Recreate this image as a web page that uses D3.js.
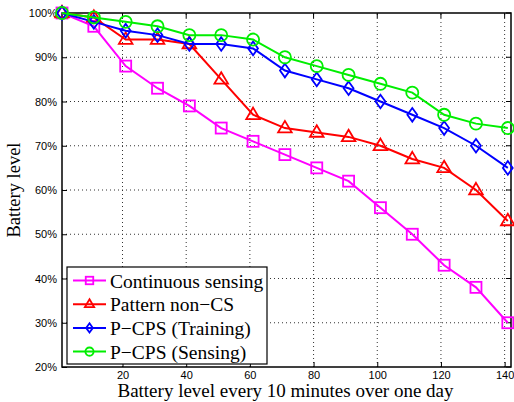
<!DOCTYPE html>
<html>
<head>
<meta charset="utf-8">
<script src="https://cdn.jsdelivr.net/npm/d3@7"></script>
<style>
  body { margin: 0; background: #fff; }
  svg { display: block; }
</style>
</head>
<body>
<svg id="chart" width="514" height="402"></svg>
<script>
// sample index (every 10 minutes)
const xs = [1, 11, 21, 31, 41, 51, 61, 71, 81, 91, 101, 111, 121, 131, 141];

// battery level in %
const continuousSensing = [100, 97, 88, 83, 79, 74, 71, 68, 65, 62, 56, 50, 43, 38, 30];
const patternNonCS = [100, 99, 94, 94, 93, 85, 77, 74, 73, 72, 70, 67, 65, 60, 53];
const pcpsTraining = [100, 98, 96, 95, 93, 93, 92, 87, 85, 83, 80, 77, 74, 70, 65];
const pcpsSensing = [100, 99, 98, 97, 95, 95, 94, 90, 88, 86, 84, 82, 77, 75, 74];

const xTicks = [20, 40, 60, 80, 100, 120, 140];
const yTicks = [20, 30, 40, 50, 60, 70, 80, 90, 100];

const seriesNames = ["Continuous sensing", "Pattern non\u2212CS", "P\u2212CPS (Training)", "P\u2212CPS (Sensing)"];
const seriesColors = ["#ff00ff", "#ff0000", "#0000ff", "#00ee00"];
const seriesMarkers = ["square", "triangle", "diamond", "circle"];

const series = [continuousSensing, patternNonCS, pcpsTraining, pcpsSensing].map((vals, i) => ({
  name: seriesNames[i],
  color: seriesColors[i],
  marker: seriesMarkers[i],
  points: vals.map((v, j) => ({ x: xs[j], y: v }))
}));

const margin = { left: 62, right: 3, top: 13, bottom: 35 };
const W = 514, H = 402;
const serif = "Liberation Serif, Times New Roman, serif";

const svg = d3.select("#chart");

const x = d3.scaleLinear().domain([1, 142]).range([margin.left, W - margin.right]);
const y = d3.scaleLinear().domain([20, 100]).range([H - margin.bottom, margin.top]);

const x0 = x.range()[0], x1 = x.range()[1];
const y0 = y.range()[0], y1 = y.range()[1];

// dotted grid
svg.append("g").selectAll("line").data(xTicks).join("line")
  .attr("x1", d => x(d)).attr("x2", d => x(d))
  .attr("y1", y0).attr("y2", y1)
  .attr("stroke", "#333").attr("stroke-width", 1)
  .attr("stroke-dasharray", "1,3");
svg.append("g").selectAll("line").data(yTicks.filter(d => d > 20 && d < 100)).join("line")
  .attr("x1", x0).attr("x2", x1)
  .attr("y1", d => y(d)).attr("y2", d => y(d))
  .attr("stroke", "#333").attr("stroke-width", 1)
  .attr("stroke-dasharray", "1,3");

// axes (ticks inside, matlab box style)
const xAxis = svg.append("g")
  .attr("transform", `translate(0,${y0})`)
  .call(d3.axisBottom(x).tickValues(xTicks).tickSizeInner(-5).tickSizeOuter(0).tickPadding(4));
const yAxis = svg.append("g")
  .attr("transform", `translate(${x0},0)`)
  .call(d3.axisLeft(y).tickValues(yTicks).tickFormat(d => d + "%").tickSizeInner(-5).tickSizeOuter(0).tickPadding(5));
[xAxis, yAxis].forEach(g => {
  g.select(".domain").remove();
  g.selectAll("text").attr("font-family", "Liberation Sans, Arial, sans-serif").attr("font-size", 11).attr("fill", "#000");
  g.selectAll("line").attr("stroke", "#000");
});
// opposite ticks
svg.append("g").selectAll("line").data(xTicks).join("line")
  .attr("x1", d => x(d)).attr("x2", d => x(d))
  .attr("y1", y1).attr("y2", y1 + 5).attr("stroke", "#000");
svg.append("g").selectAll("line").data(yTicks).join("line")
  .attr("x1", x1).attr("x2", x1 - 5)
  .attr("y1", d => y(d)).attr("y2", d => y(d)).attr("stroke", "#000");

// box
svg.append("rect")
  .attr("x", x0).attr("y", y1)
  .attr("width", x1 - x0).attr("height", y0 - y1)
  .attr("fill", "none").attr("stroke", "#000").attr("stroke-width", 1.5);

// marker drawing
function drawMarker(g, type, color, size) {
  const s = size;
  if (type === "square") {
    g.append("rect").attr("x", -s / 2).attr("y", -s / 2).attr("width", s).attr("height", s);
  } else if (type === "triangle") {
    const r = s * 0.65;
    g.append("path").attr("d", `M0,${-r}L${r * 0.95},${r * 0.6}L${-r * 0.95},${r * 0.6}Z`);
  } else if (type === "diamond") {
    const r = s * 0.62;
    g.append("path").attr("d", `M0,${-r}L${r * 0.72},0L0,${r}L${-r * 0.72},0Z`);
  } else {
    g.append("circle").attr("r", s * 0.55);
  }
  g.selectAll("*").attr("fill", "none").attr("stroke", color).attr("stroke-width", 1.8);
}

const line = d3.line().x(d => x(d.x)).y(d => y(d.y));

series.forEach(s => {
  svg.append("path")
    .datum(s.points)
    .attr("d", line)
    .attr("fill", "none")
    .attr("stroke", s.color)
    .attr("stroke-width", 2);
  s.points.forEach(p => {
    const g = svg.append("g").attr("transform", `translate(${x(p.x)},${y(p.y)})`);
    drawMarker(g, s.marker, s.color, 11);
  });
});

// legend
const legend = svg.append("g").attr("transform", "translate(67,267)");
legend.append("rect")
  .attr("width", 200).attr("height", 97)
  .attr("fill", "#fff").attr("stroke", "#000").attr("stroke-width", 1.2);
series.forEach((s, i) => {
  const ly = 13.5 + i * 23.7;
  legend.append("line")
    .attr("x1", 6).attr("x2", 39).attr("y1", ly).attr("y2", ly)
    .attr("stroke", s.color).attr("stroke-width", 2);
  const g = legend.append("g").attr("transform", `translate(22.5,${ly})`);
  drawMarker(g, s.marker, s.color, 7.5);
  legend.append("text")
    .attr("x", 43).attr("y", ly + 7)
    .attr("font-family", serif)
    .attr("font-size", 19.5)
    .text(s.name);
});

// axis titles
svg.append("text")
  .attr("x", (x0 + x1) / 2 - 1).attr("y", 397)
  .attr("text-anchor", "middle")
  .attr("font-family", serif)
  .attr("font-size", 19)
  .text("Battery level every 10 minutes over one day");
svg.append("text")
  .attr("transform", `translate(20,${(y0 + y1) / 2}) rotate(-90)`)
  .attr("text-anchor", "middle")
  .attr("font-family", serif)
  .attr("font-size", 18.5)
  .text("Battery level");
</script>
</body>
</html>
